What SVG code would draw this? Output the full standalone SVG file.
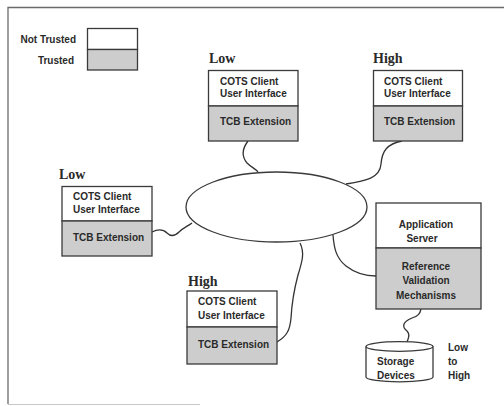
<svg xmlns="http://www.w3.org/2000/svg" width="504" height="406" viewBox="0 0 504 406">
<style>
.frame{stroke:#6a6a6a;stroke-width:1.3;fill:none}
.box{fill:#ffffff;stroke:#3a3a3a;stroke-width:1.3}
.tr{fill:#cdcdcd;stroke:#3a3a3a;stroke-width:1.3}
.t{font-family:"Liberation Sans",Arial,sans-serif;font-weight:bold;font-size:10px;fill:#2a2a2a}
.lv{font-family:"Liberation Serif","Times New Roman",serif;font-weight:bold;font-size:14px;fill:#2a2a2a}
.c{fill:none;stroke:#333;stroke-width:1.3}
.m{text-anchor:middle}
.e{text-anchor:end}
</style>
<g id="frame">
<path class="frame" d="M504,7.5 H8 V404"/>
<path d="M8,404.5 H200" stroke="#c8c8c8" stroke-width="1" fill="none"/>
</g>
<g id="legend">
<rect class="box" x="87.5" y="28.5" width="50" height="21"/>
<rect class="tr" x="87.5" y="49.5" width="50" height="20.5"/>
<text class="t e" x="76" y="43">Not Trusted</text>
<text class="t e" x="74" y="63.5">Trusted</text>
</g>
<g id="connectors">
<path class="c" d="M248,141 C242,149 242,157 247,163 C251,167 256,169 258,172"/>
<path class="c" d="M402,141 C387,144 382,151 381,164 C380,178 366,181 346,184"/>
<path class="c" d="M152,232 C158,229 163,229 167,233 C171,237 175,236 179,232 C183,228 188,226 192,223"/>
<path class="c" d="M277,342 C287,336 290,330 291,318 C292,300 294,290 298,275 C302,262 305,253 300,243"/>
<path class="c" d="M333,235 C334,248 336,258 346,266 C355,273 366,276 376,276"/>
<path class="c" d="M421,309 C420,314 418,316 412,318 C402,322 402,327 407,331 C411,335 408,339 407,342"/>
</g>
<g id="network">
<ellipse class="box" cx="276.5" cy="207" rx="90.5" ry="35"/>
</g>
<g id="client-top-low">
<text class="lv" x="209" y="63">Low</text>
<rect class="box" x="208.5" y="70.5" width="89.5" height="35.5"/>
<rect class="tr" x="208.5" y="106" width="89.5" height="35"/>
<text class="t" x="220" y="84.5">COTS Client</text>
<text class="t" x="220" y="97">User Interface</text>
<text class="t" x="220" y="125">TCB Extension</text>
</g>
<g id="client-top-high">
<text class="lv" x="373" y="63">High</text>
<rect class="box" x="373.5" y="70.5" width="89" height="35.5"/>
<rect class="tr" x="373.5" y="106" width="89" height="35"/>
<text class="t" x="384" y="84.5">COTS Client</text>
<text class="t" x="384" y="97">User Interface</text>
<text class="t" x="384" y="125">TCB Extension</text>
</g>
<g id="client-left-low">
<text class="lv" x="59" y="179">Low</text>
<rect class="box" x="62" y="186.5" width="90" height="34.5"/>
<rect class="tr" x="62" y="221" width="90" height="35"/>
<text class="t" x="73" y="200">COTS Client</text>
<text class="t" x="73" y="212.5">User Interface</text>
<text class="t" x="73" y="241">TCB Extension</text>
</g>
<g id="client-bottom-high">
<text class="lv" x="188" y="286">High</text>
<rect class="box" x="187" y="291" width="90" height="36"/>
<rect class="tr" x="187" y="327" width="90" height="37"/>
<text class="t" x="198" y="305">COTS Client</text>
<text class="t" x="198" y="318.5">User Interface</text>
<text class="t" x="198" y="347.5">TCB Extension</text>
</g>
<g id="app-server">
<rect class="box" x="376" y="203" width="105" height="45"/>
<rect class="tr" x="376" y="248" width="105" height="61"/>
<text class="t m" x="426" y="228">Application</text>
<text class="t m" x="422" y="241.5">Server</text>
<text class="t m" x="426" y="269.5">Reference</text>
<text class="t m" x="426" y="284">Validation</text>
<text class="t m" x="426" y="298.5">Mechanisms</text>
</g>
<g id="storage">
<path class="box" d="M366,346.5 V377 A33.5,4.8 0 0 0 433,377 V346.5"/>
<ellipse class="box" cx="399.5" cy="346.5" rx="33.5" ry="4.8"/>
<text class="t" x="377" y="364.5">Storage</text>
<text class="t" x="377" y="379">Devices</text>
<text class="t" x="448" y="350.5">Low</text>
<text class="t" x="448" y="364.5">to</text>
<text class="t" x="448" y="379">High</text>
</g>
</svg>
